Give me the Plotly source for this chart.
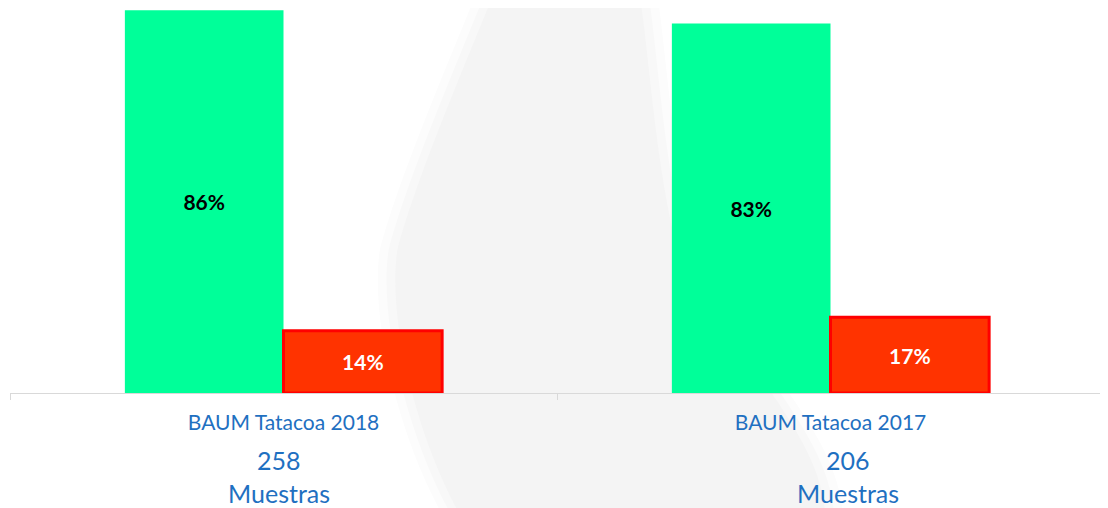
import plotly.graph_objects as go

categories = ["BAUM Tatacoa 2018", "BAUM Tatacoa 2017"]
aprobados = [86, 83]
rechazados = [14, 17]
muestras = [258, 206]

FONT = "Lato, 'Open Sans', sans-serif"
BLUE = "#1f70c1"

fig = go.Figure()

fig.add_trace(go.Bar(
    x=categories,
    y=aprobados,
    text=[f"{v}%" for v in aprobados],
    textposition="inside",
    insidetextanchor="middle",
    textfont=dict(family=FONT, size=21, color="black", weight="bold"),
    marker=dict(color="#00ff99", line=dict(width=0)),
    name="Aprobados",
))

fig.add_trace(go.Bar(
    x=categories,
    y=rechazados,
    text=[f"{v}%" for v in rechazados],
    textposition="inside",
    insidetextanchor="middle",
    textfont=dict(family=FONT, size=21, color="white", weight="bold"),
    marker=dict(color="#ff3300", line=dict(color="#ff0000", width=3)),
    name="Rechazados",
))

# numero de muestras debajo de cada categoria
shifts = [-5, 17]
for cat, n, dx in zip(categories, muestras, shifts):
    fig.add_annotation(
        x=cat, xref="x", y=-0.174, yref="paper",
        text=str(n), showarrow=False, yanchor="middle", xshift=dx,
        font=dict(family=FONT, size=25, color=BLUE),
    )
    fig.add_annotation(
        x=cat, xref="x", y=-0.26, yref="paper",
        text="Muestras", showarrow=False,
        yanchor="middle", xshift=dx,
        font=dict(family=FONT, size=25, color=BLUE),
    )


# mancha gris de fondo (marca de agua), con bordes difuminados
def mancha(d):
    return (f"M {0.441 - d} 1.03 C {0.42 - d} 0.88, {0.37 - d} 0.55, {0.354 - d} 0.37 "
            f"C {0.345 - d} 0.2, {0.37 - d} -0.1, {0.41 - d} -0.31 L {0.745 + d} -0.31 "
            f"C {0.74 + d} -0.1, {0.66 + d} 0.1, {0.610 + d} 0.37 "
            f"C {0.59 + d} 0.6, {0.585 + d} 0.85, {0.576 + d} 1.03 Z")


for d, col in [(0.016, "#fcfcfc"), (0.008, "#f8f8f8"), (0.0, "#f4f4f4")]:
    fig.add_shape(
        type="path",
        xref="paper", yref="paper",
        path=mancha(d),
        fillcolor=col,
        line=dict(width=0),
        layer="below",
    )

fig.update_layout(
    width=1100,
    height=500,
    margin=dict(l=2, r=4, t=0, b=115, autoexpand=False),
    paper_bgcolor="white",
    plot_bgcolor="rgba(0,0,0,0)",
    barmode="group",
    bargap=0.42,
    bargroupgap=0,
    showlegend=False,
    font=dict(family=FONT),
)

fig.update_xaxes(
    showline=True,
    linecolor="#d9d9d9",
    linewidth=1,
    ticks="outside",
    tickson="boundaries",
    ticklen=6,
    tickcolor="#d9d9d9",
    tickfont=dict(family=FONT, size=21, color=BLUE),
    ticklabelstandoff=11,
    showgrid=False,
    automargin=False,
)

fig.update_yaxes(
    range=[0, 86.5],
    visible=False,
    showgrid=False,
)

fig.write_html("out.html")
